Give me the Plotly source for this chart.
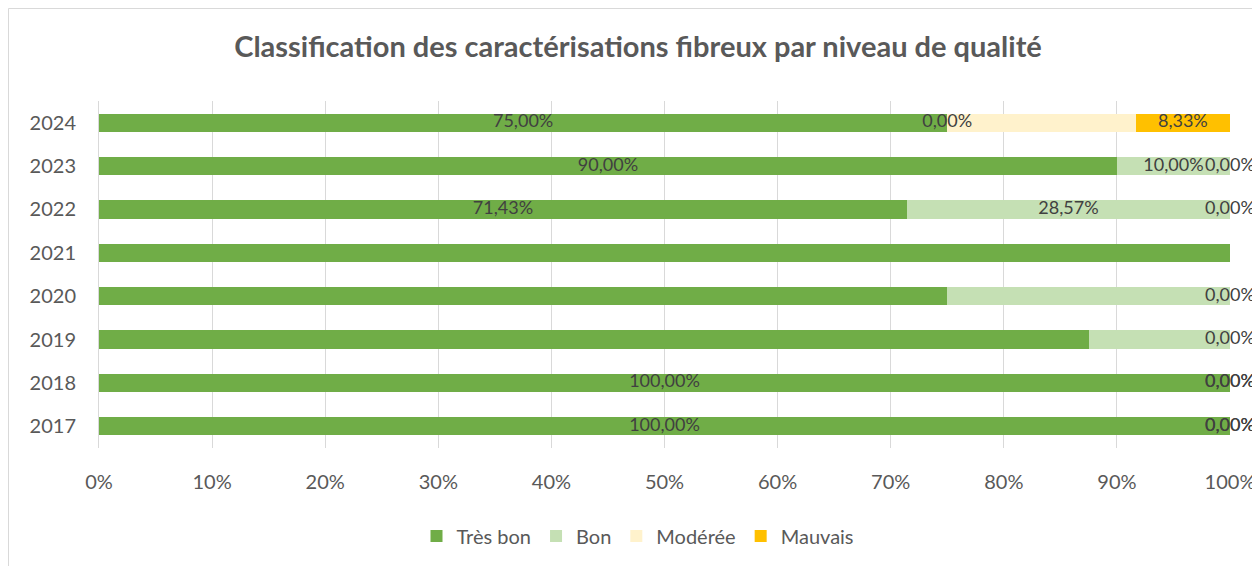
import numpy as np
import plotly.graph_objects as go

years = ["2017", "2018", "2019", "2020", "2021", "2022", "2023", "2024"]
tres_bon = [100.0, 100.0, 87.5, 75.0, 100.0, 71.43, 90.0, 75.0]
bon = [0.0, 0.0, 12.5, 25.0, 0.0, 28.57, 10.0, 0.0]
moderee = [0.0, 0.0, 0.0, 0.0, 0.0, 0.0, 0.0, 16.67]
mauvais = [0.0, 0.0, 0.0, 0.0, 0.0, 0.0, 0.0, 8.33]

series_names = ["Très bon", "Bon", "Modérée", "Mauvais"]
series_values = [tres_bon, bon, moderee, mauvais]
colors = ["#70ad47", "#c5e0b4", "#fff2cc", "#ffc000"]

# which data labels are visible (as in the original chart)
show_labels = [
    [True, True, False, False, False, True, True, True],    # Très bon
    [False, False, False, False, False, True, True, True],  # Bon
    [True, True, True, True, False, True, True, False],     # Modérée
    [True, True, False, False, False, False, False, True],  # Mauvais
]

def fr_pct(v):
    return f"{v:.2f}".replace(".", ",") + "%"

FONT = "Lato"
W, H = 1252, 558
L, R, T, B = 91, 30, 93, 118
PW, PH = W - L - R, H - T - B

fig = go.Figure()
for name, vals, col in zip(series_names, series_values, colors):
    fig.add_trace(go.Bar(
        y=years, x=vals, name=name, orientation="h",
        marker=dict(color=col, line=dict(width=0)),
        textposition="none", hoverinfo="x+name",
    ))

# data labels centred on each segment
cum = np.zeros(len(years))
for vals, mask in zip(series_values, show_labels):
    v = np.array(vals)
    mid = cum + v / 2
    xs = [m for m, s in zip(mid, mask) if s]
    ys = [y for y, s in zip(years, mask) if s]
    ts = [fr_pct(val) for val, s in zip(vals, mask) if s]
    fig.add_trace(go.Scatter(
        x=xs, y=ys, text=ts, mode="text", showlegend=False,
        textfont=dict(family=FONT, size=18, color="#404040"),
        hoverinfo="skip", cliponaxis=False,
    ))
    cum = cum + v

fig.update_layout(
    barmode="stack",
    bargap=0.58,
    width=W, height=H,
    margin=dict(l=L, r=R, t=T, b=B, autoexpand=False),
    paper_bgcolor="white", plot_bgcolor="white",
    font=dict(family=FONT, size=20, color="#595959"),
    title=dict(
        text="<b>Classification des caractérisations fibreux par niveau de qualité</b>",
        x=(638 - 8) / W, xref="container", xanchor="center",
        y=1 - 39 / H, yanchor="middle",
        font=dict(family=FONT, size=29, color="#595959"),
    ),
    xaxis=dict(
        range=[0, 100], tickvals=list(range(0, 101, 10)),
        ticktext=[f"{t}%" for t in range(0, 101, 10)],
        showgrid=True, gridcolor="#d9d9d9", gridwidth=1,
        zeroline=False, showline=False, ticks="",
        tickfont=dict(size=20, color="#595959"),
        ticklabelstandoff=20, automargin=False,
    ),
    yaxis=dict(
        type="category", categoryorder="array", categoryarray=years,
        showgrid=False, zeroline=False,
        showline=True, linecolor="#d9d9d9", linewidth=1,
        ticks="", tickfont=dict(size=20, color="#595959"),
        ticklabelstandoff=18, automargin=False,
    ),
    legend=dict(
        orientation="h", xref="container", x=(638 - 8) / W, xanchor="center",
        y=(PH - (528 - T)) / PH, yanchor="middle",
        font=dict(size=20, color="#595959"), traceorder="normal",
        itemwidth=30,
    ),
    shapes=[dict(
        type="rect", xref="paper", yref="paper",
        x0=(0.5 - L) / PW, x1=(W + 40 - L) / PW,
        y0=-(B + 40) / PH, y1=(PH + T - 0.5) / PH,
        line=dict(color="#d9d9d9", width=1), fillcolor="rgba(0,0,0,0)",
        layer="below",
    )],
)

fig.write_html("out.html")
